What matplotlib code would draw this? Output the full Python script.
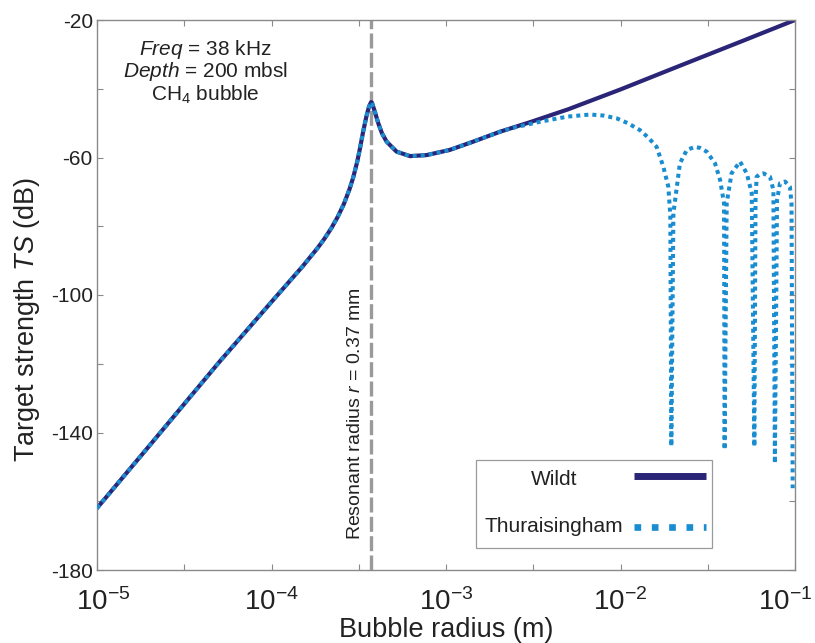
import matplotlib
matplotlib.use("Agg")
import matplotlib.pyplot as plt
from matplotlib.lines import Line2D
from matplotlib.patches import Rectangle
from matplotlib.ticker import FixedLocator, LogFormatterSciNotation, NullFormatter
from matplotlib.transforms import ScaledTranslation
import numpy as np

plt.rcParams['font.family'] = ['Liberation Sans', 'DejaVu Sans']
plt.rcParams['mathtext.fontset'] = 'custom'
plt.rcParams['mathtext.rm'] = 'Liberation Sans'
plt.rcParams['mathtext.it'] = 'Liberation Sans:italic'
plt.rcParams['axes.unicode_minus'] = False

# Wildt model (radius in m, TS in dB)
r_wildt = [1e-5, 2e-5, 5e-5, 1e-4, 1.5e-4, 1.82e-4, 2.0e-4, 2.2e-4, 2.4e-4,
           2.6e-4, 2.8e-4, 2.94e-4, 3.1e-4, 3.21e-4, 3.35e-4, 3.5e-4, 3.62e-4,
           3.72e-4, 3.76e-4, 3.9e-4, 4.09e-4, 4.3e-4, 4.57e-4, 5.21e-4, 6.22e-4,
           7.75e-4, 1.05e-3, 1.43e-3, 2.04e-3, 3e-3, 5e-3, 1e-2, 2e-2, 5e-2, 1e-1]
ts_wildt = [-162, -143.8, -119.6, -102, -91.8, -86.6, -83.8, -80.6, -77.2,
            -73.5, -69.2, -65.8, -61.2, -57.5, -52.5, -48.0, -45.2,
            -43.9, -44.0, -46.5, -50, -53, -55.4, -58.3, -59.6,
            -59.3, -57.8, -55.4, -52.5, -49.8, -46, -40.2, -34.1, -26.1, -20]

# Thuraisingham model
r_thur = [1e-5, 2e-5, 5e-5, 1e-4, 1.5e-4, 1.82e-4, 2.0e-4, 2.2e-4, 2.4e-4,
          2.6e-4, 2.8e-4, 2.94e-4, 3.1e-4, 3.21e-4, 3.35e-4, 3.5e-4, 3.62e-4,
          3.72e-4, 3.76e-4, 3.9e-4, 4.09e-4, 4.3e-4, 4.57e-4, 5.21e-4, 6.22e-4,
          7.75e-4, 1.05e-3, 1.43e-3, 2.04e-3, 2.4e-3, 3.46e-3,
          4.97e-3, 6.7e-3, 8e-3, 9.5e-3, 1.1e-2, 1.29e-2, 1.45e-2, 1.61e-2,
          1.76e-2, 1.88e-2, 1.93e-2, 1.955e-2, 2.01e-2, 2.19e-2, 2.4e-2, 2.67e-2,
          2.85e-2, 3.12e-2, 3.48e-2, 3.72e-2, 3.92e-2, 3.95e-2, 4.06e-2, 4.33e-2,
          4.84e-2, 5.29e-2, 5.65e-2, 5.85e-2, 5.94e-2, 6.03e-2, 6.3e-2, 6.58e-2,
          7.19e-2, 7.52e-2, 7.67e-2, 7.89e-2, 8.2e-2, 8.77e-2, 9.35e-2, 9.55e-2,
          9.7e-2]
ts_thur = [-162, -143.8, -119.6, -102, -91.8, -86.6, -83.8, -80.6, -77.2,
           -73.5, -69.2, -65.8, -61.2, -57.5, -52.5, -48.0, -45.2,
           -43.9, -44.0, -46.5, -50, -53, -55.4, -58.3, -59.6,
           -59.3, -57.8, -55.4, -52.5, -51.4, -49.6,
           -48.1, -47.5, -47.8, -48.6, -50, -52, -54.3, -56.9,
           -62.7, -68.5, -77, -144, -76.2, -61.7, -57.8, -56.9,
           -57.2, -58.3, -61.7, -66.5, -73.3, -145, -73.3, -64.6,
           -61.2, -64.6, -70.4, -144.1, -72.4, -65.6, -64.8, -64.6,
           -65.6, -69.5, -149, -72.4, -67.5, -67, -68.5, -73.3,
           -156.2]

r_res = 3.7e-4
wildt_color = '#2a2577'
thur_color = '#1a8cd0'
grey = '#8a8a8a'
ink = '#222222'

fig = plt.figure(figsize=(8.15, 6.43), dpi=100)
ax = fig.add_axes([97 / 815, 73 / 643, 698 / 815, 550 / 643])

ax.axvline(r_res, color='#9a9a9a', lw=2.4, dashes=(4.5, 1.3), zorder=1)
ax.plot(r_wildt, ts_wildt, color=wildt_color, lw=3.0, zorder=2)
ax.plot(r_thur, ts_thur, color=thur_color, lw=2.9, ls=(0, (1, 1)),
        dash_capstyle='butt', zorder=3)

ax.set_xscale('log')
ax.set_xlim(1e-5, 1e-1)
ax.set_ylim(-180, -20)
ax.xaxis.set_major_locator(FixedLocator([1e-5, 1e-4, 1e-3, 1e-2, 1e-1]))
ax.xaxis.set_minor_locator(FixedLocator([10 ** (k + 0.5) for k in range(-5, -1)]))
ax.xaxis.set_major_formatter(LogFormatterSciNotation())
ax.xaxis.set_minor_formatter(NullFormatter())
ax.set_yticks([-180, -140, -100, -60, -20])
ax.set_yticks([-160, -120, -80, -40], minor=True)

for s in ax.spines.values():
    s.set_color(grey)
    s.set_linewidth(1.0)
ax.tick_params(which='both', direction='in', top=True, right=True,
               length=4.5, width=0.8, color=grey)
ax.tick_params(axis='y', labelsize=15, pad=3, labelcolor=ink)
ax.tick_params(axis='x', labelsize=20, pad=13, labelcolor=ink)

ax.set_xlabel('Bubble radius (m)', fontsize=19.5, color=ink, va='baseline')
ax.xaxis.set_label_coords(0.5, -0.1215)
ax.set_ylabel(r'Target strength $\it{TS}$ (dB)', fontsize=19.5, color=ink,
              labelpad=6)
ax.yaxis.label.set_y(0.455)

# annotation block
ax.text(0.155, 0.936, r'$\it{Freq}$ = 38 kHz', transform=ax.transAxes,
        ha='center', va='baseline', fontsize=15, color=ink)
ax.text(0.155, 0.896, r'$\it{Depth}$ = 200 mbsl', transform=ax.transAxes,
        ha='center', va='baseline', fontsize=15, color=ink)
ax.text(0.155, 0.853, r'CH$_4$ bubble', transform=ax.transAxes,
        ha='center', va='baseline', fontsize=15, color=ink)

ax.text(0.37, 0.285, r'Resonant radius $\it{r}$ = 0.37 mm', transform=ax.transAxes,
        rotation=90, ha='center', va='center', fontsize=14, color=ink)

# legend box drawn by hand to get centred labels with the line on the right
ax.add_patch(Rectangle((0.543, 0.04), 0.338, 0.16, transform=ax.transAxes,
                       facecolor='white', edgecolor='#9a9a9a', lw=0.9, zorder=5))
ax.text(0.655, 0.1545, 'Wildt', transform=ax.transAxes, ha='center',
        va='baseline', fontsize=15, color=ink, zorder=6)
ax.text(0.655, 0.0697, 'Thuraisingham', transform=ax.transAxes, ha='center',
        va='baseline', fontsize=15, color=ink, zorder=6)
ax.add_line(Line2D([0.77, 0.872], [0.171, 0.171], transform=ax.transAxes,
                   color=wildt_color, lw=5, solid_capstyle='butt', zorder=6))
ax.add_line(Line2D([0.77, 0.872], [0.079, 0.079], transform=ax.transAxes,
                   color=thur_color, lw=4.8, ls=(0, (1, 1.6)),
                   dash_capstyle='butt', zorder=6))

# nudge the edge labels inward a little, as in the original
fig.canvas.draw()
ticks = ax.xaxis.get_major_ticks()
first = ticks[0].label1
first.set_transform(first.get_transform() + ScaledTranslation(6 / 100, 0, fig.dpi_scale_trans))
last = ticks[-1].label1
last.set_transform(last.get_transform() + ScaledTranslation(-10 / 100, 0, fig.dpi_scale_trans))

fig.savefig('out.png', dpi=100)
